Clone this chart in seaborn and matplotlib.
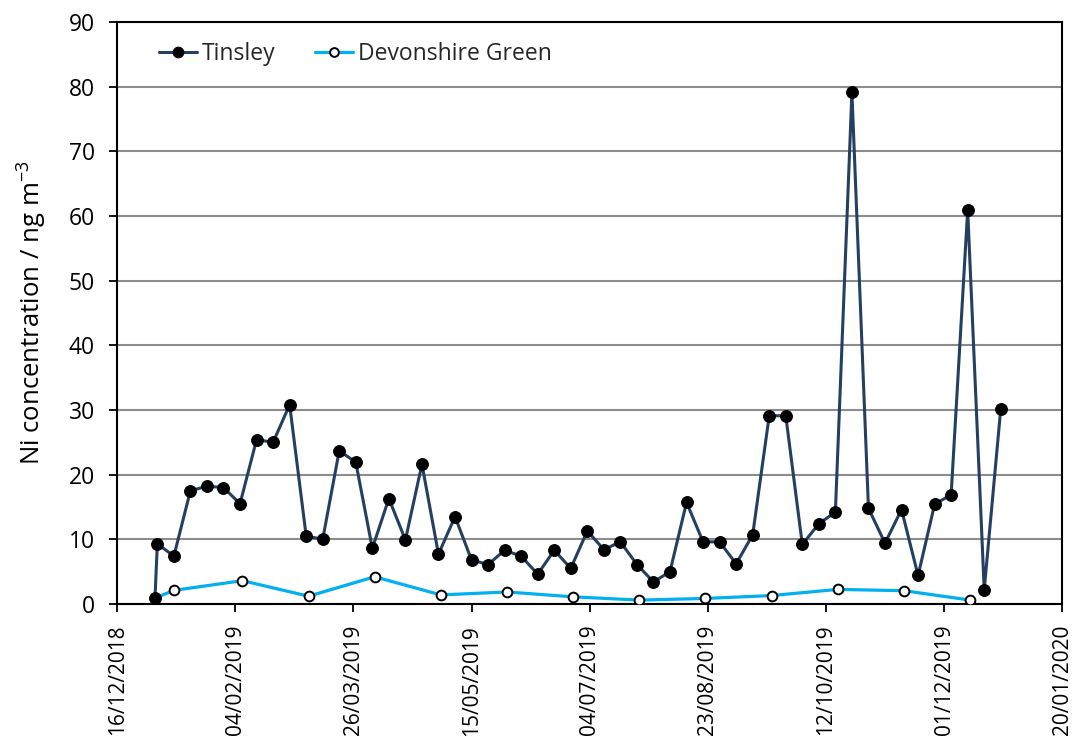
import matplotlib
matplotlib.use("Agg")
import matplotlib.pyplot as plt
import matplotlib.dates as mdates
import numpy as np
import pandas as pd
import seaborn as sns

# Weekly Tinsley samples (ng m-3)
tinsley_dates = [
    "2019-01-01", "2019-01-02", "2019-01-09", "2019-01-16", "2019-01-23", "2019-01-30",
    "2019-02-06", "2019-02-13", "2019-02-20", "2019-02-27",
    "2019-03-06", "2019-03-13", "2019-03-20", "2019-03-27",
    "2019-04-03", "2019-04-10", "2019-04-17", "2019-04-24",
    "2019-05-01", "2019-05-08", "2019-05-15", "2019-05-22", "2019-05-29",
    "2019-06-05", "2019-06-12", "2019-06-19", "2019-06-26",
    "2019-07-03", "2019-07-10", "2019-07-17", "2019-07-24", "2019-07-31",
    "2019-08-07", "2019-08-14", "2019-08-21", "2019-08-28",
    "2019-09-04", "2019-09-11", "2019-09-18", "2019-09-25",
    "2019-10-02", "2019-10-09", "2019-10-16", "2019-10-23", "2019-10-30",
    "2019-11-06", "2019-11-13", "2019-11-20", "2019-11-27",
    "2019-12-04", "2019-12-11", "2019-12-18", "2019-12-25",
]
tinsley_ni = [
    0.9, 9.3, 7.4, 17.5, 18.2, 18.0,
    15.5, 25.4, 25.0, 30.8,
    10.5, 10.0, 23.7, 21.9,
    8.6, 16.3, 9.9, 21.6,
    7.7, 13.5, 6.8, 6.1, 8.3,
    7.4, 4.6, 8.3, 5.5,
    11.3, 8.4, 9.6, 6.1, 3.4,
    5.0, 15.7, 9.6, 9.6,
    6.2, 10.7, 29.1, 29.1,
    9.2, 12.4, 14.2, 79.1, 14.8,
    9.4, 14.6, 4.4, 15.4,
    16.9, 60.9, 2.2, 30.2,
]

# Four-weekly Devonshire Green samples (ng m-3)
devonshire_dates = [
    "2019-01-01", "2019-01-09", "2019-02-07", "2019-03-07", "2019-04-04",
    "2019-05-02", "2019-05-30", "2019-06-27", "2019-07-25", "2019-08-22",
    "2019-09-19", "2019-10-17", "2019-11-14", "2019-12-12",
]
devonshire_ni = [0.9, 2.1, 3.6, 1.2, 4.2, 1.4, 1.85, 1.1, 0.6, 0.85, 1.3, 2.25, 2.05, 0.6]

x_start, x_end = "2018-12-16", "2020-01-20"

tinsley = pd.DataFrame({"date": pd.to_datetime(tinsley_dates), "ni": tinsley_ni})
devonshire = pd.DataFrame({"date": pd.to_datetime(devonshire_dates), "ni": devonshire_ni})

sns.set_theme(style="white")
plt.rcParams["font.family"] = ["Open Sans", "DejaVu Sans"]

fig = plt.figure(figsize=(10.8, 7.54), dpi=100)
ax = fig.add_axes([0.1085, 0.199, 0.875, 0.772])

sns.lineplot(data=devonshire, x="date", y="ni", ax=ax, color="#00B0F0", linewidth=2.3,
             marker="o", markersize=7, markerfacecolor="white", markeredgecolor="black",
             markeredgewidth=1.4, label="Devonshire Green", zorder=3)
sns.lineplot(data=tinsley, x="date", y="ni", ax=ax, color="#243F60", linewidth=2.2,
             marker="o", markersize=8.5, markerfacecolor="black", markeredgecolor="black",
             label="Tinsley", zorder=4)

ax.set_xlim(pd.Timestamp(x_start), pd.Timestamp(x_end))
ax.set_ylim(0, 90)
ax.set_yticks(np.arange(0, 91, 10))
ax.set_xticks(pd.date_range(x_start, x_end, freq="50D"))
ax.xaxis.set_major_formatter(mdates.DateFormatter("%d/%m/%Y"))

ax.yaxis.grid(True, color="#8C8C8C", linewidth=1.5)
ax.xaxis.grid(False)
ax.set_axisbelow(True)

for side in ["left", "right", "top", "bottom"]:
    ax.spines[side].set_color("black")
    ax.spines[side].set_linewidth(1.5)

ax.tick_params(axis="both", which="major", direction="out", length=6, width=1.3,
               color="black", labelcolor="black", bottom=True, left=True)
ax.tick_params(axis="x", labelrotation=90, labelsize=15, pad=9)
ax.tick_params(axis="y", labelsize=16.5, pad=10)

ax.set_xlabel("")
ax.set_ylabel("Ni concentration / ng m$\\mathregular{^{-3}}$", fontsize=18.5,
              color="black", labelpad=14)

handles, labels = ax.get_legend_handles_labels()
order = [labels.index("Tinsley"), labels.index("Devonshire Green")]
ax.legend([handles[i] for i in order], [labels[i] for i in order], loc="center left",
          bbox_to_anchor=(0.0444, 0.945), ncol=2, frameon=False, fontsize=16.5,
          handlelength=1.65, handletextpad=0.2, columnspacing=1.75,
          borderpad=0, borderaxespad=0, markerscale=0.9)

fig.savefig("out.png", dpi=100)
